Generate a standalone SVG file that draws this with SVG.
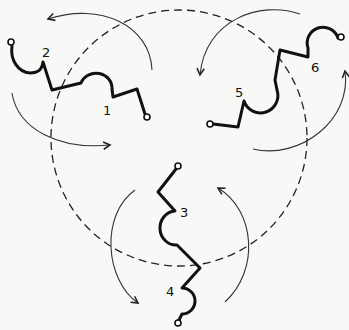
<svg xmlns="http://www.w3.org/2000/svg" width="349" height="330" viewBox="0 0 349 330">
<defs>
<marker id="ah" markerUnits="userSpaceOnUse" markerWidth="12" markerHeight="12" refX="0" refY="0" viewBox="-8 -5 10 10" orient="auto">
<path d="M-5.5,-3 L0,0 L-5.5,3" fill="none" stroke="#222" stroke-width="1.3"/>
</marker>
<style>
.wire{fill:none;stroke:#111;stroke-width:3;stroke-linejoin:round;stroke-linecap:round}
.term{fill:#fff;stroke:#111;stroke-width:1.6}
.arr{fill:none;stroke:#333;stroke-width:1.1;marker-end:url(#ah)}
.dash{fill:none;stroke:#222;stroke-width:1.3;stroke-dasharray:8 5}
.lbl{font-family:"DejaVu Sans",sans-serif;font-size:13px;fill:#111}
</style>
</defs>
<rect width="349" height="330" fill="#f8f8f6"/>
<g id="connectors">
<circle class="dash" cx="179" cy="138" r="128"/>
<path class="arr" d="M152,70 C150,25 100,2 48,19"/>
<path class="arr" d="M12,93 C18,130 60,150 110,145"/>
<path class="arr" d="M300,14 C260,0 205,20 200,75"/>
<path class="arr" d="M253,149 C300,160 352,120 345,71"/>
<path class="arr" d="M135,190 C100,215 105,280 138,303"/>
<path class="arr" d="M225,302 C260,270 255,210 218,188"/>
</g>
<g id="node-1-2">
<path class="wire" d="M12,46 C10,60 18,72 30,73 C38,73 42,70 43,62 L52,90 L81,83 A16,15 0 0 1 112,89 L113,97 L137,89 L145,114"/>
<circle class="term" cx="11" cy="42" r="3"/>
<circle class="term" cx="147" cy="117" r="3"/>
<text class="lbl" x="42" y="57">2</text>
<text class="lbl" x="103" y="115">1</text>
</g>
<g id="node-5-6">
<path class="wire" d="M213,124 L238,127 L244,101 A16,16 0 0 0 277,90 L275,80 L280,50 L308,57 L308,48 A15,15 0 0 1 338,38"/>
<circle class="term" cx="210" cy="124" r="3"/>
<circle class="term" cx="341" cy="37" r="3"/>
<text class="lbl" x="235" y="97">5</text>
<text class="lbl" x="311" y="72">6</text>
</g>
<g id="node-3-4">
<path class="wire" d="M176,169 L158,192 L175,211 A16,17 0 0 0 177,245 L200,268 L182,288 A13,13 0 0 1 182,314 L179,320"/>
<circle class="term" cx="178" cy="166" r="3"/>
<circle class="term" cx="178" cy="323" r="3"/>
<text class="lbl" x="180" y="217">3</text>
<text class="lbl" x="166" y="296">4</text>
</g>
</svg>
